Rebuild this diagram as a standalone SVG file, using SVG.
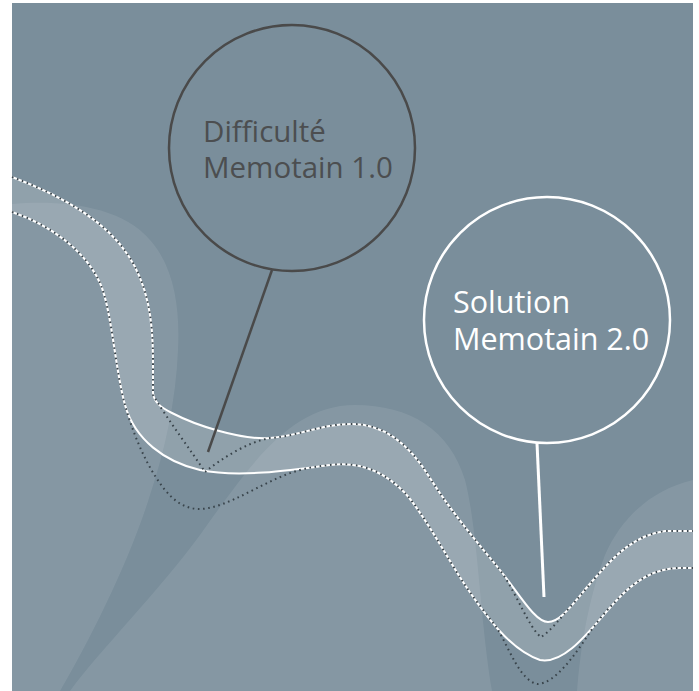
<svg xmlns="http://www.w3.org/2000/svg" width="699" height="691" viewBox="0 0 699 691">
<style>
.bg{fill:#7a8e9b}
.light{fill:#ffffff;fill-opacity:0.085}
.band{fill:#ffffff;fill-opacity:0.17}
.wline{fill:none;stroke:#ffffff;stroke-width:2}
.dots{fill:none;stroke:#39444b;stroke-width:2;stroke-dasharray:1.6 3.6}
.t1{font-family:"Open Sans","Liberation Sans",sans-serif;font-size:29.5px;fill:#4c4e50}
.t2{font-family:"Open Sans","Liberation Sans",sans-serif;font-size:30.5px;fill:#ffffff}
</style>
<rect x="0" y="0" width="699" height="691" fill="#ffffff"/>
<rect class="bg" x="12" y="3" width="681" height="688"/>
<g id="terrain">
<path class="light" d="M12,204 C60,200 120,205 150,240 C175,268 180,310 178,350 C176,400 165,450 150,495 C130,560 90,640 60,691 L12,691 Z"/>
<path class="light" d="M70,691 C100,650 160,590 200,535 C250,465 290,405 355,405 C410,405 450,430 465,480 C478,530 480,620 492,691 Z"/>
<path class="light" d="M577,691 C580,650 588,600 605,555 C620,520 650,490 693,480 L693,691 Z"/>
</g>
<g id="band">
<path class="band" d="M12,177 C60,195 105,220 128,255 C148,285 153,320 153,360 L153,393 C154,402 160,407 172,413 C195,425 240,440 270,438 C300,436 320,424 352,424 C385,424 410,445 430,478 C455,518 480,545 500,570 C520,595 535,622 548,622 C562,622 575,600 595,578 C615,555 635,535 665,531 L693,531 L693,568 L680,568 C655,568 635,580 615,602 C590,630 565,665 540,660 C510,650 485,615 465,585 C445,555 425,515 405,493 C385,472 360,461 330,465 C290,470 240,478 200,470 C165,462 135,440 125,405 C115,370 112,310 100,283 C85,250 50,225 12,212 Z"/>
</g>
<g id="connectors">
<path class="wline" d="M12,177 C60,195 105,220 128,255 C148,285 153,320 153,360 L153,393 C154,402 160,407 172,413 C195,425 240,440 270,438 C300,436 320,424 352,424 C385,424 410,445 430,478 C455,518 480,545 500,570 C520,595 535,622 548,622 C562,622 575,600 595,578 C615,555 635,535 665,531 L693,531"/>
<path class="wline" d="M12,212 C50,225 85,250 100,283 C112,310 115,370 125,405 C135,440 165,462 200,470 C240,478 290,470 330,465 C360,461 385,472 405,493 C425,515 445,555 465,585 C485,615 510,650 540,660 C565,665 590,630 615,602 C635,580 655,568 680,568 L693,568"/>
<path class="dots" d="M12,177 C60,195 105,220 128,255 C148,285 153,320 153,360 L153,395 C168,420 192,452 205,472 C222,458 248,442 270,438 C300,436 320,424 352,424 C385,424 410,445 430,478 C455,518 480,545 500,570 C515,590 530,630 541,637 C552,630 560,618 572,605 C580,596 585,590 595,578 C615,555 635,535 665,531 L693,531"/>
<path class="dots" d="M12,212 C50,225 85,250 100,283 C112,310 115,370 125,405 C132,430 145,465 165,490 C180,508 195,512 213,507 C240,500 270,478 300,470 C312,467 320,466 330,465 C360,461 385,472 405,493 C425,515 445,555 465,585 C475,600 487,615 497,628 C510,650 520,680 537,684 C555,684 575,655 590,632 C600,618 607,610 615,602 C635,580 655,568 680,568 L693,568"/>
<line x1="272" y1="270" x2="208" y2="452" stroke="#4a4a4a" stroke-width="2.5"/>
<line x1="537" y1="443" x2="544" y2="597" stroke="#ffffff" stroke-width="3"/>
</g>
<g id="node-difficulte">
<circle cx="292" cy="148" r="123" fill="none" stroke="#4a4a4a" stroke-width="2.5"/>
<text class="t1" x="203" y="142">Difficulté<tspan x="203" y="178">Memotain 1.0</tspan></text>
</g>
<g id="node-solution">
<circle cx="547" cy="320" r="123" fill="none" stroke="#ffffff" stroke-width="2.5"/>
<text class="t2" x="453" y="313">Solution<tspan x="453" y="350">Memotain 2.0</tspan></text>
</g>
</svg>
